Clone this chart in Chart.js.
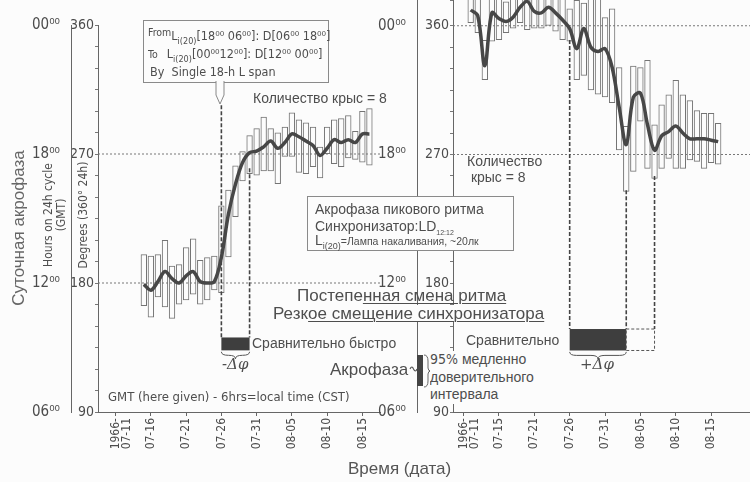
<!DOCTYPE html>
<html lang="ru">
<head>
<meta charset="utf-8">
<title>Суточная акрофаза</title>
<script src="https://cdn.jsdelivr.net/npm/chart.js@4.4.1/dist/chart.umd.min.js"></script>
<style>
  body { margin: 0; background: #fcfcfc; }
  #page { position: relative; width: 750px; height: 482px; overflow: hidden;
          font-family: 'Liberation Sans', Arial, sans-serif; color: #4e4e4e; }
  canvas { position: absolute; top: 0; }
  #left { left: 0; }
  #right { left: 370px; }
  .t { position: absolute; white-space: nowrap; line-height: 1; }
  .n { font-family: 'Liberation Sans Narrow', 'DejaVu Sans Condensed', 'Roboto Condensed', sans-serif; }
  .r { transform: translate(-50%, -50%) rotate(-90deg); text-align: center; }
  .u { text-decoration: underline; text-underline-offset: 2px; text-decoration-thickness: 1px; }
  .box { position: absolute; border: 1px solid #8a8a8a; background: #fcfcfc; }
</style>
</head>
<body>
<div id="page">
  <canvas id="left" width="400" height="482"></canvas>
  <canvas id="right" width="380" height="482"></canvas>

  <div class="t r" style="left:18px;top:228px;font-size:17px;color:#666">Суточная акрофаза</div>
  <div class="t r n" style="left:55px;top:215px;font-size:12px;line-height:1.1">Hours on 24h cycle<br>(GMT)</div>
  <div class="t r n" style="left:83px;top:215px;font-size:12px">Degrees (360° 24h)</div>

  <div class="box n" style="left:143px;top:20px;width:184px;height:61px;font-size:12.5px">
    <div class="t" style="left:4px;top:5px"><span style="font-size:10.5px">From</span><span style="position:relative;top:4px">L<sub style="font-size:9px">i(20)</sub>[18⁰⁰ 06⁰⁰]: D[06⁰⁰ 18⁰⁰]</span></div>
    <div class="t" style="left:4px;top:27px"><span style="font-size:10.5px">To&nbsp;&nbsp;&nbsp;</span><span>L<sub style="font-size:9px">i(20)</sub>[00⁰⁰12⁰⁰]: D[12⁰⁰ 00⁰⁰]</span></div>
    <div class="t" style="left:6px;top:45px">By&nbsp; Single 18-h L span</div>
  </div>
  <svg style="position:absolute;left:0;top:0" width="750" height="482">
    <path d="M216,81 L216,95 L220,104 L224,95 L224,81" fill="#fcfcfc" stroke="#888" stroke-width="1"/>
    <path d="M410,369 q2,-4 3.5,0 q2,4 3.5,0" fill="none" stroke="#555" stroke-width="1.2"/>
    <rect x="417" y="355" width="6" height="31" fill="#444"/>
    <path d="M424,355 q4,0 4,6 l0,7 q0,3 3,3 q-3,0 -3,3 l0,7 q0,6 -4,6" fill="none" stroke="#666" stroke-width="1"/>
  </svg>

  <div class="t" style="left:253px;top:91px;font-size:14px">Количество крыс = 8</div>
  <div class="t" style="left:467px;top:153px;font-size:14px;line-height:1.15">Количество<br>&nbsp;крыс = 8</div>

  <div class="box" style="left:307px;top:196px;width:205px;height:53px">
    <div class="t" style="left:7px;top:5px;font-size:14px">Акрофаза пикового ритма</div>
    <div class="t" style="left:7px;top:22px;font-size:14px">Синхронизатор:LD<sub style="font-size:7px">12:12</sub></div>
    <div class="t" style="left:7px;top:36px;font-size:14px">L<sub style="font-size:9px">i(20)</sub><span style="font-size:10.5px">=Лампа накаливания, ~20лк</span></div>
  </div>

  <div class="t" style="left:297px;top:287px;font-size:17px">Постепе<span class="u">нная смена ритма</span></div>
  <div class="t" style="left:273px;top:305px;font-size:17px;background:#fcfcfc">Резк<span class="u">ое смещение синхронизатора</span></div>

  <div class="t" style="left:252px;top:336px;font-size:14px">Сравнительно быстро</div>
  <div class="t" style="left:466px;top:333px;font-size:14px;background:#fcfcfc">Сравнительно</div>
  <div class="t" style="left:430px;top:351px;font-size:14px;line-height:1.25;background:#fcfcfc"><span class="n">95%</span> медленно<br>доверительного<br>интервала</div>
  <div class="t" style="left:330px;top:361px;font-size:17px">Акрофаза</div>

  <div class="t" style="left:222px;top:357px;font-size:15px;font-style:italic;font-family:'DejaVu Serif',serif">-Δφ</div>
  <div class="t" style="left:580px;top:357px;font-size:15px;font-style:italic;font-family:'DejaVu Serif',serif">+Δφ</div>

  <div class="t n" style="left:108px;top:390px;font-size:13px">GMT (here given) - 6hrs=local time (CST)</div>
  <div class="t" style="left:348px;top:460px;font-size:17px;color:#555">Время (дата)</div>
</div>

<script>
// all days on the two date axes
const days = [
  '07-09', '07-10', '07-11', '07-12', '07-13', '07-14', '07-15', '07-16',
  '07-17', '07-18', '07-19', '07-20', '07-21', '07-22', '07-23', '07-24',
  '07-25', '07-26', '07-27', '07-28', '07-29', '07-30', '07-31', '08-01',
  '08-02', '08-03', '08-04', '08-05', '08-06', '08-07', '08-08', '08-09',
  '08-10', '08-11', '08-12', '08-13', '08-14', '08-15', '08-16', '08-17',
  '08-18', '08-19', '08-20'
];
const leftAxisDays = days.slice(0, 40);
const rightAxisDays = days.slice(1);

const leftTickDays = ['07-11', '07-16', '07-21', '07-26', '07-31', '08-05', '08-10', '08-15'];
const leftTickText = [['1966-', '07-11'], '07-16', '07-21', '07-26', '07-31', '08-05', '08-10', '08-15'];
const rightTickDays = ['07-11', '07-16', '07-21', '07-26', '07-31', '08-05', '08-10', '08-15'];
const rightTickText = [['1966-', '07-11'], '07-15', '07-21', '07-26', '07-31', '08-05', '08-10', '08-15'];

const degreeTicks = [90, 180, 270, 360];
const hourTicks = ['06⁰⁰', '12⁰⁰', '18⁰⁰', '00⁰⁰'];

// left panel: single 18-h light span (fast shift)
const leftDates = [
  '07-15', '07-16', '07-17', '07-18', '07-19', '07-20', '07-21', '07-22',
  '07-23', '07-24', '07-25', '07-26', '07-27', '07-28', '07-29', '07-30',
  '07-31', '08-01', '08-02', '08-03', '08-04', '08-05', '08-06', '08-07',
  '08-08', '08-09', '08-10', '08-11', '08-12', '08-13', '08-14', '08-15', '08-16'
];
const leftLow = [
  164, 156, 170, 163, 155, 165, 168, 172, 165, 168, 175, 173, 198, 226, 251, 256,
  255, 258, 258, 249, 268, 268, 257, 256, 261, 253, 270, 263, 261, 267, 266, 264, 262
];
const leftHigh = [
  200, 199, 200, 210, 192, 193, 205, 211, 196, 198, 199, 234, 245, 262, 272, 283,
  288, 296, 288, 285, 289, 299, 294, 292, 289, 275, 289, 294, 295, 297, 286, 300, 302
];
const leftMean = [
  179, 175, 181, 188, 183, 180, 185, 188, 181, 180, 181, 198, 228, 249, 264, 271,
  272, 275, 279, 274, 278, 284, 282, 279, 276, 269, 274, 280, 278, 280, 278, 284, 284
];

// right panel: slow shift
const rightDates = [
  '07-12', '07-13', '07-14', '07-15', '07-16', '07-17', '07-18', '07-19',
  '07-20', '07-21', '07-22', '07-23', '07-24', '07-25', '07-26', '07-27',
  '07-28', '07-29', '07-30', '07-31', '08-01', '08-02', '08-03', '08-04',
  '08-05', '08-06', '08-07', '08-08', '08-09', '08-10', '08-11', '08-12',
  '08-13', '08-14', '08-15', '08-16'
];
const rightLow = [
  362, 355, 322, 349, 350, 355, 358, 362, 357, 358, 358, 360, 356, 350, 349, 322,
  325, 315, 312, 310, 306, 273, 244, 258, 293, 260, 253, 260, 267, 260, 260, 266,
  265, 260, 264, 263
];
const rightHigh = [
  392, 388, 350, 385, 382, 377, 386, 395, 400, 390, 386, 392, 385, 380, 372, 378,
  376, 382, 380, 366, 372, 331, 290, 332, 331, 336, 291, 305, 312, 322, 312, 308,
  301, 299, 299, 292
];
const rightMean = [
  371, 367, 332, 369, 365, 363, 366, 373, 377, 370, 369, 373, 369, 364, 358, 344,
  358, 345, 342, 344, 331, 303, 277, 310, 313, 291, 273, 283, 286, 290, 285, 281,
  281, 281, 280, 279
];

const ink = '#4c4c4c';
const narrow = "'Liberation Sans Narrow', 'DejaVu Sans Condensed', 'Roboto Condensed', sans-serif";

function alignTo(axisDays, dates, values) {
  return axisDays.map((day) => {
    const i = dates.indexOf(day);
    return i < 0 ? null : values[i];
  });
}

function drawBrace(ctx, x1, x2, y, h) {
  const xm = (x1 + x2) / 2;
  const r = Math.min(h, (x2 - x1) / 4);
  ctx.beginPath();
  ctx.moveTo(x1, y);
  ctx.quadraticCurveTo(x1, y + h / 2, x1 + r, y + h / 2);
  ctx.lineTo(xm - r, y + h / 2);
  ctx.quadraticCurveTo(xm, y + h / 2, xm, y + h);
  ctx.quadraticCurveTo(xm, y + h / 2, xm + r, y + h / 2);
  ctx.lineTo(x2 - r, y + h / 2);
  ctx.quadraticCurveTo(x2, y + h / 2, x2, y);
  ctx.stroke();
}

const marksPlugin = {
  id: 'marks',
  beforeDatasetsDraw(chart, args, opts) {
    const { ctx, chartArea, scales } = chart;
    ctx.save();
    ctx.strokeStyle = '#777';
    ctx.lineWidth = 1;
    ctx.setLineDash([2, 2]);
    opts.refLines.forEach((v) => {
      const y = scales.y.getPixelForValue(v);
      ctx.beginPath();
      ctx.moveTo(chartArea.left, y);
      ctx.lineTo(chartArea.right, y);
      ctx.stroke();
    });
    ctx.restore();
  },
  afterDatasetsDraw(chart, args, opts) {
    const { ctx, scales } = chart;
    const px = (day) => scales.x.getPixelForValue(chart.data.labels.indexOf(day));
    const py = (v) => scales.y.getPixelForValue(v);
    ctx.save();

    opts.blocks.forEach((b) => {
      const x1 = px(b.from);
      const x2 = px(b.to);
      if (b.filled) {
        ctx.fillStyle = '#3e3e3e';
        ctx.fillRect(x1, py(b.top), x2 - x1, py(b.bottom) - py(b.top));
      } else {
        ctx.strokeStyle = '#555';
        ctx.lineWidth = 1;
        ctx.setLineDash([3, 2]);
        ctx.strokeRect(x1, py(b.top), x2 - x1, py(b.bottom) - py(b.top));
        ctx.setLineDash([]);
      }
    });

    ctx.strokeStyle = '#444';
    ctx.lineWidth = 1.6;
    ctx.setLineDash([4, 2]);
    opts.drops.forEach((d) => {
      const x = px(d.day);
      ctx.beginPath();
      ctx.moveTo(x, py(d.from));
      ctx.lineTo(x, py(d.to));
      ctx.stroke();
    });

    ctx.setLineDash([]);
    ctx.lineWidth = 1;
    ctx.strokeStyle = '#555';
    opts.braces.forEach((b) => {
      drawBrace(ctx, px(b.from), px(b.to), py(b.at), 7);
    });
    ctx.restore();
  }
};

function makePanel(canvasId, axisDays, dates, low, high, mean, tickDays, tickText, yMax, padding, widths, marks) {
  const boxes = alignTo(axisDays, dates, low.map((v, i) => [v, high[i]]));
  const means = alignTo(axisDays, dates, mean);

  return new Chart(document.getElementById(canvasId), {
    type: 'bar',
    data: {
      labels: axisDays,
      datasets: [
        {
          type: 'line',
          label: 'Акрофаза',
          data: means,
          borderColor: '#474747',
          borderWidth: 3.5,
          pointRadius: 0,
          tension: 0.35,
          order: 1
        },
        {
          label: '95% доверительного интервала',
          data: boxes,
          backgroundColor: 'rgba(255,255,255,0)',
          borderColor: '#747474',
          borderWidth: 1,
          borderSkipped: false,
          barPercentage: 0.9,
          categoryPercentage: 1,
          order: 2
        }
      ]
    },
    options: {
      responsive: false,
      animation: false,
      devicePixelRatio: 1,
      layout: { padding: padding },
      plugins: {
        legend: { display: false },
        tooltip: { enabled: false },
        marks: marks
      },
      scales: {
        x: {
          offset: true,
          grid: {
            offset: false,
            drawOnChartArea: false,
            tickLength: 4,
            color: (c) => (c.tick && tickDays.includes(axisDays[c.tick.value]) ? '#666' : 'rgba(0,0,0,0)')
          },
          border: { display: true, color: '#666', width: 1 },
          ticks: {
            autoSkip: false,
            minRotation: 90,
            maxRotation: 90,
            padding: 2,
            color: ink,
            font: { family: narrow, size: 12, lineHeight: 0.95 },
            callback: function (value) {
              const k = tickDays.indexOf(axisDays[value]);
              return k < 0 ? '' : tickText[k];
            }
          },
          afterFit: (s) => {
            s.height = 70;
            s.paddingLeft = 0;
            s.paddingRight = 0;
          }
        },
        y: {
          position: 'left',
          weight: 0,
          min: 90,
          max: yMax,
          grid: { drawOnChartArea: false, tickLength: 3, color: '#777' },
          border: { display: true, color: '#666', width: 1 },
          ticks: {
            stepSize: 15,
            autoSkip: false,
            padding: 1,
            color: ink,
            font: { family: narrow, size: 14 },
            callback: (v) => (degreeTicks.includes(v) ? String(v) : '')
          },
          afterFit: (s) => {
            s.width = widths[1];
            s.paddingTop = 0;
            s.paddingBottom = 0;
          }
        },
        hours: {
          position: 'left',
          weight: 1,
          min: 90,
          max: yMax,
          grid: { display: false },
          border: { display: true, color: '#666', width: 1 },
          ticks: {
            stepSize: 90,
            padding: 3,
            color: ink,
            font: { family: narrow, size: 15 },
            callback: (v) => {
              const k = degreeTicks.indexOf(v);
              return k < 0 ? '' : hourTicks[k];
            }
          },
          afterFit: (s) => {
            s.width = widths[0];
            s.paddingTop = 0;
            s.paddingBottom = 0;
          }
        }
      }
    },
    plugins: [marksPlugin]
  });
}

makePanel('left', leftAxisDays, leftDates, leftLow, leftHigh, leftMean,
  leftTickDays, leftTickText, 360, { top: 25, right: 20, left: 0, bottom: 0 }, [71, 27], {
    refLines: [180, 270],
    drops: [
      { day: '07-26', from: 304, to: 142 },
      { day: '07-30', from: 260, to: 142 }
    ],
    blocks: [{ from: '07-26', to: '07-30', top: 142, bottom: 133, filled: true }],
    braces: [{ from: '07-26', to: '07-30', at: 132 }]
  });

makePanel('right', rightAxisDays, rightDates, rightLow, rightHigh, rightMean,
  rightTickDays, rightTickText, 378, { top: 0, right: 0, left: 0, bottom: 0 }, [47, 36], {
    refLines: [270, 360],
    drops: [
      { day: '07-26', from: 350, to: 148 },
      { day: '08-03', from: 245, to: 148 },
      { day: '08-07', from: 255, to: 148 }
    ],
    blocks: [
      { from: '07-26', to: '08-03', top: 148, bottom: 133, filled: true },
      { from: '08-03', to: '08-07', top: 148, bottom: 133, filled: false }
    ],
    braces: [{ from: '07-26', to: '08-03', at: 132 }]
  });
</script>
</body>
</html>
